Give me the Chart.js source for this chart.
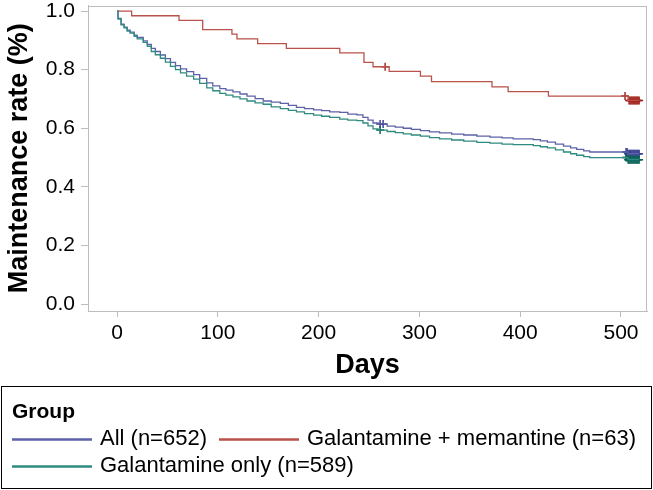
<!DOCTYPE html>
<html>
<head>
<meta charset="utf-8">
<script src="https://cdn.jsdelivr.net/npm/chart.js@4.4.0/dist/chart.umd.min.js"></script>
<style>
  html, body { margin: 0; padding: 0; background: #fff; }
</style>
</head>
<body>
<canvas id="km" width="653" height="490"></canvas>
<script>
// ── DATA ───────────────────────────────────────────────────────
const xTicks = [0, 100, 200, 300, 400, 500];
const yTicks = [0, 0.2, 0.4, 0.6, 0.8, 1.0];

const groupLabels = ['All (n=652)', 'Galantamine + memantine (n=63)', 'Galantamine only (n=589)'];

// All (n=652)
const allDays = [0, 1, 4, 7, 10, 13, 17, 20, 26, 30, 34, 38, 43, 48, 53, 58, 63, 69, 76, 82, 89, 95,
  102, 108, 115, 122, 129, 137, 145, 153, 162, 170, 178, 186, 195, 203, 211, 221, 229, 238, 244,
  249, 254, 259, 268, 276, 284, 292, 301, 310, 320, 332, 344, 357, 370, 382, 393, 413, 420, 427,
  435, 443, 450, 456, 463, 469, 507, 518];
const allRate = [1.0, 0.975, 0.955, 0.945, 0.935, 0.928, 0.918, 0.910, 0.898, 0.886, 0.873, 0.862,
  0.850, 0.838, 0.825, 0.814, 0.803, 0.793, 0.783, 0.770, 0.755, 0.745, 0.735, 0.730, 0.724, 0.717,
  0.710, 0.701, 0.693, 0.689, 0.685, 0.678, 0.671, 0.667, 0.663, 0.660, 0.656, 0.654, 0.648, 0.646,
  0.637, 0.628, 0.618, 0.615, 0.607, 0.604, 0.600, 0.596, 0.592, 0.588, 0.584, 0.580, 0.577, 0.573,
  0.570, 0.567, 0.564, 0.561, 0.557, 0.553, 0.546, 0.539, 0.533, 0.528, 0.523, 0.519, 0.513, 0.513];
const allCensor = [261, 264, 505, 506, 507, 508, 509, 510, 511, 512, 513, 514, 515, 516, 517, 518];

// Galantamine + memantine (n=63)
const memDays = [0, 14.5, 61.5, 85, 114, 119, 139.5, 168, 221, 245, 254, 270, 301, 312, 372, 388, 428, 507, 518];
const memRate = [1.0, 0.984, 0.968, 0.937, 0.921, 0.905, 0.889, 0.873, 0.857, 0.825, 0.810, 0.794,
  0.778, 0.759, 0.741, 0.725, 0.710, 0.695, 0.695];
const memCensor = [266, 504, 508, 509, 510, 511, 512, 513, 514, 515, 516, 517, 518];

// Galantamine only (n=589)
const onlyDays = allDays;
const onlyRate = [1.0, 0.973, 0.953, 0.943, 0.932, 0.925, 0.914, 0.905, 0.893, 0.880, 0.862, 0.851,
  0.839, 0.826, 0.811, 0.800, 0.789, 0.778, 0.768, 0.753, 0.738, 0.728, 0.719, 0.713, 0.707, 0.700,
  0.693, 0.687, 0.682, 0.673, 0.667, 0.661, 0.656, 0.650, 0.645, 0.641, 0.637, 0.631, 0.628, 0.626,
  0.618, 0.608, 0.598, 0.594, 0.589, 0.585, 0.581, 0.577, 0.573, 0.568, 0.564, 0.560, 0.556, 0.552,
  0.549, 0.546, 0.544, 0.541, 0.537, 0.533, 0.526, 0.519, 0.513, 0.508, 0.503, 0.500, 0.493, 0.493];
const onlyCensor = [261, 505, 506, 507, 508, 509, 510, 511, 512, 513, 514, 515, 516, 517, 518];

// ── STYLE ──────────────────────────────────────────────────────
const FONT = "'Liberation Sans', Arial, Helvetica, sans-serif";
const lineColors = ['#5d61a8', '#b8524a', '#2f8b7f'];
const markColors = ['#3b3f93', '#a3271f', '#0b6358'];
const frameColor = '#bdbdbd';

// value of a KM step curve at time t
function stepAt(days, rate, t) {
  let v = rate[0];
  for (let i = 0; i < days.length; i++) if (days[i] <= t) v = rate[i];
  return v;
}

function curve(label, days, rate, color) {
  return {
    type: 'line', label,
    data: days.map((d, i) => ({ x: d, y: rate[i] })),
    borderColor: color, borderWidth: 1.3,
    stepped: true, pointRadius: 0, fill: false,
  };
}

function censors(days, rate, cdays, color) {
  return {
    type: 'scatter', label: '',
    data: cdays.map(t => ({ x: t, y: stepAt(days, rate, t) })),
    pointStyle: 'cross', pointRadius: 4, borderColor: color, borderWidth: 1.5,
    showLine: false,
  };
}

// frame round the plot area
const framePlugin = {
  id: 'frame',
  beforeDatasetsDraw(chart) {
    const { ctx, chartArea: a } = chart;
    ctx.save();
    ctx.strokeStyle = frameColor;
    ctx.lineWidth = 1;
    ctx.strokeRect(Math.round(a.left) + 0.5, Math.round(a.top) + 0.5,
      Math.round(a.right - a.left) - 1, Math.round(a.bottom - a.top) - 1);
    ctx.restore();
  }
};

// boxed legend at the bottom
const legendPlugin = {
  id: 'groupLegend',
  afterDraw(chart) {
    const ctx = chart.ctx;
    ctx.save();
    ctx.strokeStyle = '#000';
    ctx.lineWidth = 1;
    ctx.strokeRect(1.5, 386.5, 650, 102);

    ctx.fillStyle = '#000';
    ctx.textBaseline = 'alphabetic';
    ctx.font = `bold 21px ${FONT}`;
    ctx.fillText('Group', 12, 418);

    ctx.font = `22px ${FONT}`;
    ctx.textBaseline = 'middle';
    const rows = [439, 466];
    let x = 12, row = 0;
    groupLabels.forEach((lab, i) => {
      const w = 80 + 8 + ctx.measureText(lab).width;
      if (x > 12 && x + w > 645) { row++; x = 12; }
      const y = rows[row];
      ctx.strokeStyle = lineColors[i];
      ctx.lineWidth = 2.5;
      ctx.beginPath();
      ctx.moveTo(x, y + 0.5);
      ctx.lineTo(x + 80, y + 0.5);
      ctx.stroke();
      ctx.fillText(lab, x + 88, y);
      x += w + 12;
    });
    ctx.restore();
  }
};

new Chart(document.getElementById('km'), {
  data: {
    datasets: [
      curve(groupLabels[2], onlyDays, onlyRate, lineColors[2]),
      curve(groupLabels[0], allDays, allRate, lineColors[0]),
      curve(groupLabels[1], memDays, memRate, lineColors[1]),
      censors(onlyDays, onlyRate, onlyCensor, markColors[2]),
      censors(allDays, allRate, allCensor, markColors[0]),
      censors(memDays, memRate, memCensor, markColors[1]),
    ]
  },
  options: {
    responsive: false,
    animation: false,
    layout: { padding: { top: 2, right: 6, bottom: 104, left: 0 } },
    plugins: { legend: { display: false }, tooltip: { enabled: false } },
    scales: {
      x: {
        type: 'linear', min: -28.8, max: 525.8,
        afterBuildTicks: s => { s.ticks = xTicks.map(v => ({ value: v })); },
        afterFit: s => { s.height = 75; s.paddingLeft = 0; s.paddingRight = 0; },
        grid: { drawOnChartArea: false, tickLength: 6, tickColor: frameColor },
        border: { color: frameColor },
        ticks: { color: '#000', padding: 4, maxRotation: 0, font: { family: FONT, size: 21 } },
        title: { display: true, text: 'Days', color: '#000', padding: { top: 0, bottom: 4 },
          font: { family: FONT, size: 27, weight: 'bold' } },
      },
      y: {
        type: 'linear', min: -0.0236, max: 1.019,
        afterBuildTicks: s => { s.ticks = yTicks.map(v => ({ value: v })); },
        afterFit: s => { s.width = 88; s.paddingTop = 0; s.paddingBottom = 0; },
        grid: { drawOnChartArea: false, tickLength: 7, tickColor: frameColor },
        border: { color: frameColor },
        ticks: { color: '#000', padding: 6, font: { family: FONT, size: 21 },
          callback: v => v.toFixed(1) },
        title: { display: true, text: 'Maintenance rate (%)', color: '#000', padding: { top: 3, bottom: 0 },
          font: { family: FONT, size: 27, weight: 'bold' } },
      }
    }
  },
  plugins: [framePlugin, legendPlugin]
});
</script>
</body>
</html>
